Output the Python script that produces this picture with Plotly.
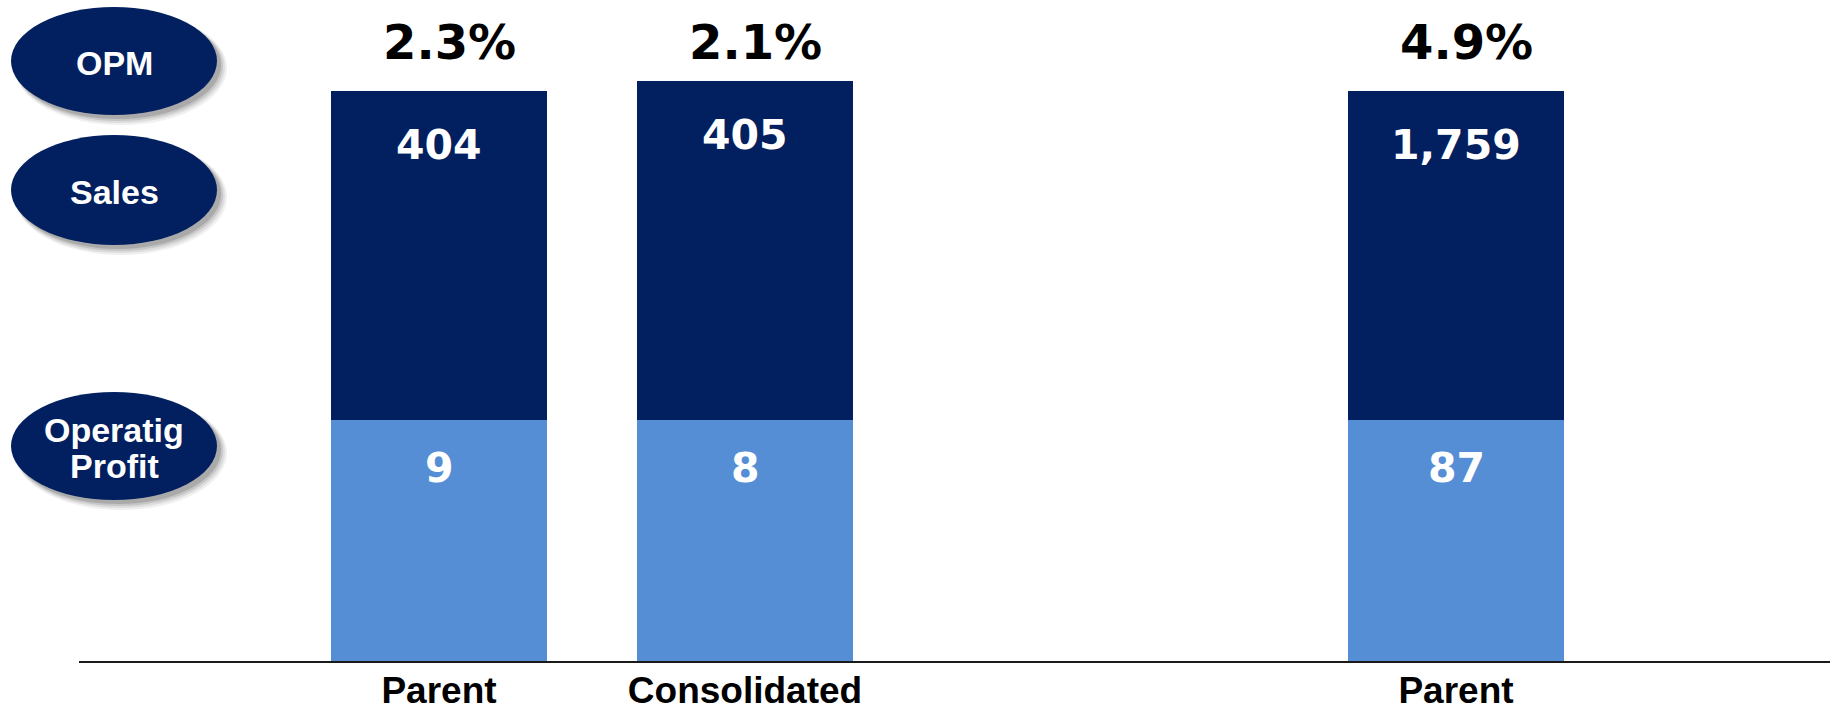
import plotly.graph_objects as go

# ---------------- data ----------------
categories = ["Parent", "Consolidated", "Parent"]
panel = [1, 1, 2]                      # which chart block each bar belongs to
sales = [404, 405, 1759]
operating_profit = [9, 8, 87]
opm = [2.3, 2.1, 4.9]                  # operating profit margin, %
# schematic segment heights as drawn in the picture (bars are not to scale)
op_segment = [241, 241, 241]
sales_segment = [329, 339, 329]
row_labels = ["OPM", "Sales", "Operatig<br>Profit"]

# ---------------- styles / layout constants ----------------
W, H = 1841, 714
AXIS_PX = 661                  # pixel row of the x axis
PLOT_H = AXIS_PX               # plot area height (top margin 0)
DARK = "#02205F"
LIGHT = "#558ED5"
NUM_FONT = "DejaVu Sans, Verdana, sans-serif"
LBL_FONT = "Liberation Sans, Arial, sans-serif"

SLOT = 306.0                  # px per category unit
BAR_W = 216.0 / SLOT          # bar width in category units
SPLIT = 1100.0                # px where the two blocks meet
AX_L, AX_R = 79.0, 1830.0
C1, C3 = 439.0, 1456.0        # pixel centres of the first bar of each block


def px_x(v):
    return v / W


def px_y(v):
    return (AXIS_PX - v) / PLOT_H


fig = go.Figure()

for p, xa in [(1, "x"), (2, "x2")]:
    idx = [i for i in range(len(categories)) if panel[i] == p]
    xs = [categories[i] for i in idx]
    fig.add_trace(go.Bar(x=xs, y=[op_segment[i] for i in idx], width=BAR_W,
                         marker=dict(color=LIGHT, line=dict(width=0)),
                         xaxis=xa, yaxis="y", hoverinfo="skip", name="Operating Profit"))
    fig.add_trace(go.Bar(x=xs, y=[sales_segment[i] for i in idx], width=BAR_W,
                         marker=dict(color=DARK, line=dict(width=0)),
                         xaxis=xa, yaxis="y", hoverinfo="skip", name="Sales"))

annotations = []
OPM_LEVEL = AXIS_PX - 42
for i in range(len(categories)):
    xr = "x" if panel[i] == 1 else "x2"
    top_op = op_segment[i]
    top_all = op_segment[i] + sales_segment[i]
    annotations.append(dict(x=categories[i], y=OPM_LEVEL, xref=xr, yref="y",
                            text=f"{opm[i]:.1f}%", showarrow=False, xshift=10,
                            yanchor="middle",
                            font=dict(family=NUM_FONT, size=48, color="black", weight="bold")))
    annotations.append(dict(x=categories[i], y=top_all, xref=xr, yref="y",
                            text=f"{sales[i]:,}", showarrow=False, yshift=-54,
                            yanchor="middle",
                            font=dict(family=NUM_FONT, size=41, color="white", weight="bold")))
    annotations.append(dict(x=categories[i], y=top_op, xref=xr, yref="y",
                            text=f"{operating_profit[i]:,}", showarrow=False, yshift=-48,
                            yanchor="middle",
                            font=dict(family=NUM_FONT, size=41, color="white", weight="bold")))

# row-label ellipses (pixel boxes) with soft drop shadow
ellipse_boxes = [(11, 7, 217, 115), (11, 135, 217, 245), (11, 392, 217, 500)]
shapes = []
for (x0, y0, x1, y1), lab in zip(ellipse_boxes, row_labels):
    for off, grow, alpha in [(7, 3, 0.06), (6, 2, 0.08), (5, 1, 0.10), (4, 0, 0.14)]:
        shapes.append(dict(type="circle", xref="paper", yref="paper",
                           x0=px_x(x0 + off - grow), x1=px_x(x1 + off + grow),
                           y0=px_y(y0 + off - grow), y1=px_y(y1 + off + grow),
                           fillcolor=f"rgba(0,0,0,{alpha})", line=dict(width=0), layer="below"))
    shapes.append(dict(type="circle", xref="paper", yref="paper",
                       x0=px_x(x0), x1=px_x(x1), y0=px_y(y0), y1=px_y(y1),
                       fillcolor=DARK, line=dict(width=0), layer="below"))
    lines = lab.split("<br>")
    cy = (y0 + y1) / 2 + 2
    step = 36
    start = cy - step * (len(lines) - 1) / 2
    for k, ln in enumerate(lines):
        annotations.append(dict(x=px_x((x0 + x1) / 2), y=px_y(start + k * step),
                                xref="paper", yref="paper", text=ln, showarrow=False,
                                xanchor="center", yanchor="middle",
                                font=dict(family=LBL_FONT, size=34, color="white", weight="bold")))

axis_common = dict(type="category", showline=True, linecolor="#1a1a1a", linewidth=2,
                   ticks="", showgrid=False, zeroline=False, fixedrange=True,
                   automargin=False,
                   tickfont=dict(family=LBL_FONT, size=37, color="black", weight="bold"),
                   ticklabelstandoff=-4)

fig.update_layout(
    width=W, height=H, autosize=False,
    margin=dict(l=0, r=0, t=0, b=H - PLOT_H, pad=0),
    paper_bgcolor="white", plot_bgcolor="white",
    barmode="stack", showlegend=False,
    xaxis=dict(domain=[px_x(AX_L), px_x(SPLIT)],
               range=[(AX_L - C1) / SLOT, (SPLIT - C1) / SLOT],
               anchor="y", **axis_common),
    xaxis2=dict(domain=[px_x(SPLIT), px_x(AX_R)],
                range=[(SPLIT - C3) / SLOT, (AX_R - C3) / SLOT],
                anchor="y", **axis_common),
    yaxis=dict(range=[0, PLOT_H], visible=False, fixedrange=True, domain=[0, 1],
               automargin=False),
    shapes=shapes,
    annotations=annotations,
)

# remove the browser's default page margin so the figure fills the window exactly
page_fix = ("document.body.style.margin='0';document.body.style.overflow='hidden';"
            "document.documentElement.style.overflow='hidden';")
fig.write_html("out.html", post_script=page_fix, config={"displayModeBar": False})
